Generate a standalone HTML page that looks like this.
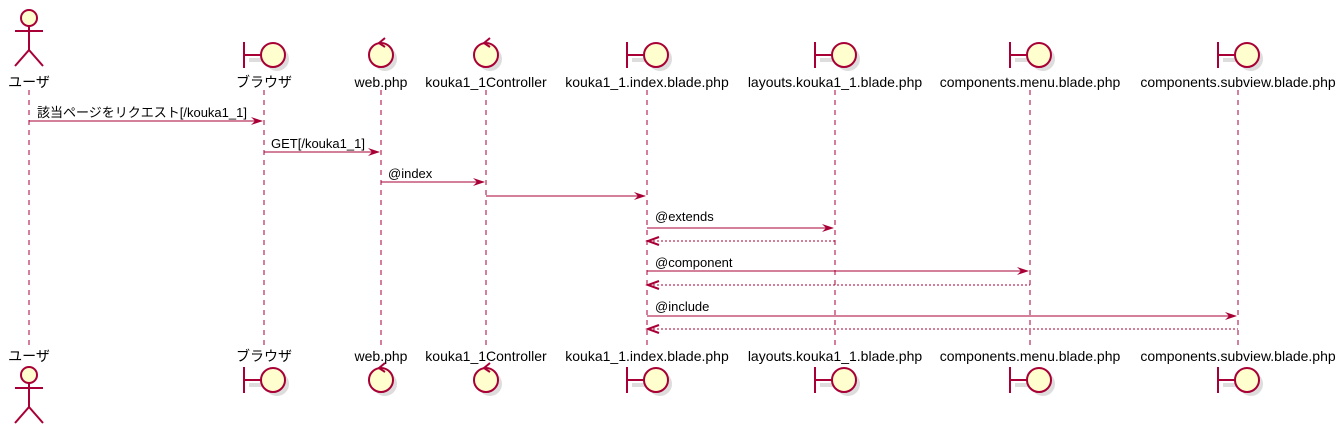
<!DOCTYPE html>
<html><head><meta charset="utf-8"><style>
html,body{margin:0;padding:0;background:#fff;}
svg{display:block;font-family:"Liberation Sans","Noto Sans CJK JP",sans-serif;}
text{font-size:13px;fill:#000;}
.p text{font-size:14px;}
.ll{stroke:#A80036;stroke-width:1;stroke-dasharray:5,5;}
.ic{fill:#FEFECE;stroke:#A80036;stroke-width:2;}
.ln{stroke:#A80036;stroke-width:2;fill:none;}
.m{stroke:#A80036;stroke-width:1;}
.d{stroke:#A80036;stroke-width:1;stroke-dasharray:2,2;}
.ah{fill:#A80036;}
.sh{fill:#ddd;}
</style></head><body>
<svg width="1340" height="430" viewBox="0 0 1340 430">
<defs>
<g id="bnd"><circle class="sh" cx="4" cy="4" r="12"/><rect class="sh" x="-24" y="3" width="16" height="4"/><line class="ln" x1="-29" y1="-13" x2="-29" y2="13"/><line class="ln" x1="-29" y1="0" x2="-12" y2="0"/><circle class="ic" cx="0" cy="0" r="12"/></g>
<g id="ctl"><circle class="sh" cx="4" cy="4" r="12"/><circle class="ic" cx="0" cy="0" r="12"/><path class="ln" d="M4,-17 L-2,-12 L4,-8" stroke-width="1.5"/></g>
<g id="act"><circle class="ic" cx="0" cy="0" r="8"/><line class="ln" x1="0" y1="8" x2="0" y2="32"/><line class="ln" x1="-14" y1="13" x2="14" y2="13"/><line class="ln" x1="0" y1="32" x2="-14" y2="48"/><line class="ln" x1="0" y1="32" x2="14" y2="48"/></g>
</defs>
<line class="ll" x1="29" y1="90" x2="29" y2="346"/>
<line class="ll" x1="264" y1="90" x2="264" y2="346"/>
<line class="ll" x1="381" y1="90" x2="381" y2="346"/>
<line class="ll" x1="486" y1="90" x2="486" y2="346"/>
<line class="ll" x1="647" y1="90" x2="647" y2="346"/>
<line class="ll" x1="835" y1="90" x2="835" y2="346"/>
<line class="ll" x1="1030" y1="90" x2="1030" y2="346"/>
<line class="ll" x1="1238" y1="90" x2="1238" y2="346"/>
<use href="#act" x="29" y="18"/>
<use href="#bnd" x="273" y="55"/>
<use href="#ctl" x="381" y="55"/>
<use href="#ctl" x="486" y="55"/>
<use href="#bnd" x="656" y="55"/>
<use href="#bnd" x="844" y="55"/>
<use href="#bnd" x="1039" y="55"/>
<use href="#bnd" x="1247" y="55"/>
<g class="p" text-anchor="middle">
<text x="29" y="87">ユーザ</text>
<text x="264" y="87">ブラウザ</text>
<text x="381" y="87">web.php</text>
<text x="486" y="87">kouka1_1Controller</text>
<text x="647" y="87">kouka1_1.index.blade.php</text>
<text x="835" y="87">layouts.kouka1_1.blade.php</text>
<text x="1030" y="87">components.menu.blade.php</text>
<text x="1238" y="87">components.subview.blade.php</text>
<text x="29" y="361">ユーザ</text>
<text x="264" y="361">ブラウザ</text>
<text x="381" y="361">web.php</text>
<text x="486" y="361">kouka1_1Controller</text>
<text x="647" y="361">kouka1_1.index.blade.php</text>
<text x="835" y="361">layouts.kouka1_1.blade.php</text>
<text x="1030" y="361">components.menu.blade.php</text>
<text x="1238" y="361">components.subview.blade.php</text>
</g>
<use href="#act" x="29" y="375"/>
<use href="#bnd" x="273" y="380"/>
<use href="#ctl" x="381" y="380"/>
<use href="#ctl" x="486" y="380"/>
<use href="#bnd" x="656" y="380"/>
<use href="#bnd" x="844" y="380"/>
<use href="#bnd" x="1039" y="380"/>
<use href="#bnd" x="1247" y="380"/>
<line class="m" x1="29" y1="121" x2="262" y2="121"/><path class="ah" d="M263,121 L251,117 L255,121 L251,125 Z"/>
<text x="37" y="117">該当ページをリクエスト[/kouka1_1]</text>
<line class="m" x1="264" y1="152" x2="379" y2="152"/><path class="ah" d="M380,152 L368,148 L372,152 L368,156 Z"/>
<text x="271" y="148">GET[/kouka1_1]</text>
<line class="m" x1="381" y1="182" x2="484" y2="182"/><path class="ah" d="M485,182 L473,178 L477,182 L473,186 Z"/>
<text x="388" y="178">@index</text>
<line class="m" x1="486" y1="196" x2="645" y2="196"/><path class="ah" d="M646,196 L634,192 L638,196 L634,200 Z"/>
<line class="m" x1="647" y1="228" x2="833" y2="228"/><path class="ah" d="M834,228 L822,224 L826,228 L822,232 Z"/>
<text x="655" y="221">@extends</text>
<line class="d" x1="649" y1="241" x2="835" y2="241"/><path class="ln" stroke-width="1" d="M659,237 L648,241 L659,245"/>
<line class="m" x1="647" y1="271" x2="1028" y2="271"/><path class="ah" d="M1029,271 L1017,267 L1021,271 L1017,275 Z"/>
<text x="655" y="267">@component</text>
<line class="d" x1="649" y1="285" x2="1030" y2="285"/><path class="ln" stroke-width="1" d="M659,281 L648,285 L659,289"/>
<line class="m" x1="647" y1="316" x2="1236" y2="316"/><path class="ah" d="M1237,316 L1225,312 L1229,316 L1225,320 Z"/>
<text x="655" y="311">@include</text>
<line class="d" x1="649" y1="329" x2="1238" y2="329"/><path class="ln" stroke-width="1" d="M659,325 L648,329 L659,333"/>
</svg>
</body></html>
